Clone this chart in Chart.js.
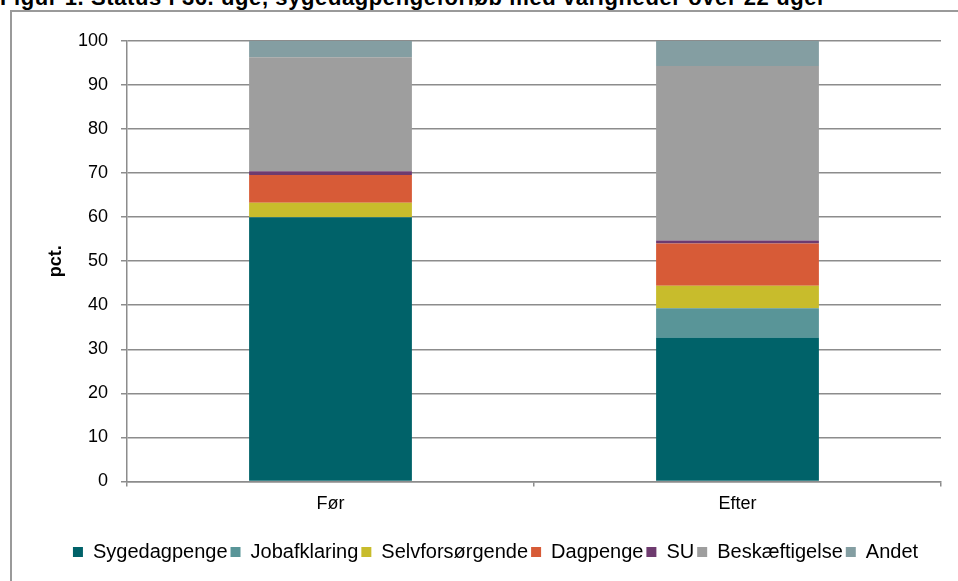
<!DOCTYPE html>
<html>
<head>
<meta charset="utf-8">
<script src="https://cdn.jsdelivr.net/npm/chart.js@4.4.1/dist/chart.umd.min.js"></script>
<style>
    body { margin: 0; background: #fff; overflow: hidden; }
    #wrap { position: relative; width: 958px; height: 581px; overflow: hidden; }
    #title {
        position: absolute; left: 0px; top: -15px; line-height: 25px;
        font: bold 22px "Liberation Sans", Arial, sans-serif; color: #000; white-space: nowrap;
        letter-spacing: 0.6px;
    }
    #frame {
        position: absolute; left: 10px; top: 10px; width: 1000px; height: 700px;
        border: 2px solid #9a9a9a; box-sizing: border-box;
    }
    #myChart { position: absolute; left: 0; top: 0; }
</style>
</head>
<body>
<div id="wrap">
    <div id="title">Figur 1. Status i 36. uge, sygedagpengeforløb med varigheder over 22 uger</div>
    <div id="frame"></div>
    <canvas id="myChart" width="958" height="581"></canvas>
</div>
<script>
// Kategorier og værdier (pct.)
const kategorier = ['Før', 'Efter'];
const sygedagpenge = [60.0, 32.7];
const jobafklaring = [0.0, 6.6];
const selvforsorgende = [3.3, 5.1];
const dagpenge = [6.3, 9.6];
const su = [0.8, 0.7];
const beskaeftigelse = [25.9, 39.6];
const andet = [3.7, 5.7];
const yTicks = [0, 10, 20, 30, 40, 50, 60, 70, 80, 90, 100];

const serier = [
    { label: 'Sygedagpenge', data: sygedagpenge, color: '#006269' },
    { label: 'Jobafklaring', data: jobafklaring, color: '#599598' },
    { label: 'Selvforsørgende', data: selvforsorgende, color: '#c8bc2c' },
    { label: 'Dagpenge', data: dagpenge, color: '#d75b37' },
    { label: 'SU', data: su, color: '#6e3b6f' },
    { label: 'Beskæftigelse', data: beskaeftigelse, color: '#9e9e9e' },
    { label: 'Andet', data: andet, color: '#849ea2' }
];

const font = "'Liberation Sans', Arial, sans-serif";
const gridColor = '#8c8c8c';

const ctx = document.getElementById('myChart').getContext('2d');
new Chart(ctx, {
    type: 'bar',
    data: {
        labels: kategorier,
        datasets: serier.map(s => ({
            label: s.label,
            data: s.data,
            backgroundColor: s.color,
            borderWidth: 0,
            barPercentage: 0.4,
            categoryPercentage: 1
        }))
    },
    options: {
        responsive: false,
        animation: false,
        // venstre padding centrerer legenden som i originalen
        layout: { padding: { left: 50, right: 17, top: 41, bottom: 9 } },
        plugins: {
            title: { display: false },
            tooltip: { enabled: false },
            legend: {
                position: 'bottom',
                labels: {
                    boxWidth: 10, boxHeight: 10, padding: 3,
                    color: '#000', font: { family: font, size: 20 }
                }
            }
        },
        scales: {
            x: {
                stacked: true,
                afterFit: scale => { scale.height += 17; },
                grid: {
                    offset: true, drawOnChartArea: false, drawTicks: true,
                    tickLength: 5, color: gridColor, lineWidth: 1.5
                },
                border: { color: gridColor, width: 1.5 },
                ticks: { color: '#000', padding: 7, font: { family: font, size: 18 } }
            },
            y: {
                stacked: true,
                min: 0, max: 100,
                afterFit: scale => { scale.width = 77; },
                afterBuildTicks: scale => { scale.ticks = yTicks.map(v => ({ value: v })); },
                grid: { color: gridColor, lineWidth: 1.5, tickLength: 6 },
                border: { color: gridColor, width: 1.5 },
                ticks: { color: '#000', padding: 13, font: { family: font, size: 18 } },
                title: {
                    display: true, text: 'pct.', color: '#000',
                    font: { family: font, size: 18, weight: 'bold' },
                    padding: { top: -5, bottom: 0 }
                }
            }
        }
    }
});
</script>
</body>
</html>
